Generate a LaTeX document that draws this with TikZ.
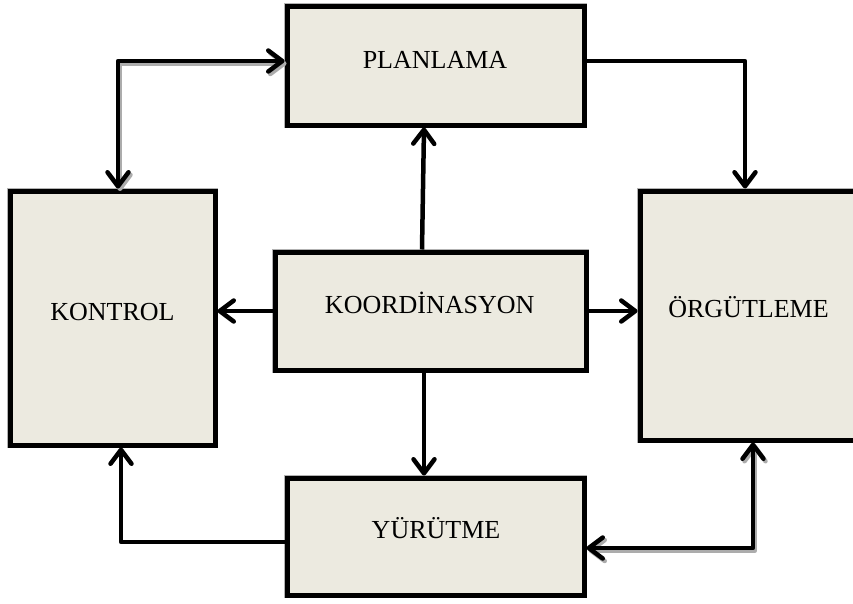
\documentclass[tikz,border=0pt]{standalone}
\usepackage{fontspec}
\setmainfont{Liberation Serif}
\usetikzlibrary{arrows.meta,calc}
\definecolor{boxfill}{RGB}{236,234,224}
\begin{document}
\begin{tikzpicture}[x=1pt,y=-1pt,
  box/.style={draw=black,line width=5pt,fill=boxfill,rectangle,inner sep=0pt,
    preaction={draw=gray!60,line width=6.5pt}},
  lbl/.style={anchor=base,inner sep=0pt,font=\fontsize{26}{30}\selectfont},
  barb/.tip={Straight Barb[length=14pt,width=21pt,line cap=round,line join=round]},
  conn/.style={line width=4.5pt,line join=round,-barb},
  both/.style={barb-barb},
  shadowline/.style={draw=gray!65}]
\useasboundingbox (0,0) rectangle (853,603);
\clip (0,0) rectangle (853,603);

% the five function boxes
\node[box,minimum width=297pt,minimum height=119pt] (plan) at (435.5,65.5) {};
\node[box,minimum width=205pt,minimum height=254pt] (kon) at (112.5,318) {};
\node[box,minimum width=230pt,minimum height=249pt] (org) at (755,315.5) {};
\node[box,minimum width=311pt,minimum height=118pt] (koo) at (430.5,311) {};
\node[box,minimum width=297pt,minimum height=117pt] (yur) at (435.5,536.5) {};

% box captions
\node[lbl] (tplan) at (435,68) {PLANLAMA};
\node[lbl] (tkon) at (112.5,320) {KONTROL};
\node[lbl] (torg) at (748.5,317) {ÖRGÜTLEME};
\node[lbl] (tkoo) at (429.7,313) {KOORDİNASYON};
\node[lbl] (tyur) at (436,538) {YÜRÜTME};

% bend points of the outer loop
\coordinate (c1) at (118,61);
\coordinate (c2) at (745,61);
\coordinate (c3) at (121,542);
\coordinate (c4) at (753,548);

% soft shadows under the two two-way connectors
\begin{scope}[transform canvas={shift={(2pt,-2.5pt)}}]
  \draw[conn,both,shadowline] (kon.north -| c1) -- (c1) -- (plan.west |- c1);
  \draw[conn,both,shadowline] (yur.east |- c4) -- (c4) -- (org.south -| c4);
\end{scope}

% outer loop
\draw[conn,both] (kon.north -| c1) -- (c1) -- (plan.west |- c1);
\draw[conn] (plan.east |- c2) -- (c2) -- (org.north -| c2);
\draw[conn] (yur.west |- c3) -- (c3) -- (kon.south -| c3);
\draw[conn,both] (yur.east |- c4) -- (c4) -- (org.south -| c4);

% coordination feeds every function
\draw[conn] ($(koo.north)+(-8.5,0)$) -- ($(plan.south)+(-11.5,0)$);
\draw[conn] (koo.west) -- (kon.east |- koo.west);
\draw[conn] (koo.east) -- (org.west |- koo.east);
\draw[conn] ($(koo.south)+(-6.5,0)$) -- (yur.north -| {$(koo.south)+(-6.5,0)$});
\end{tikzpicture}
\end{document}
